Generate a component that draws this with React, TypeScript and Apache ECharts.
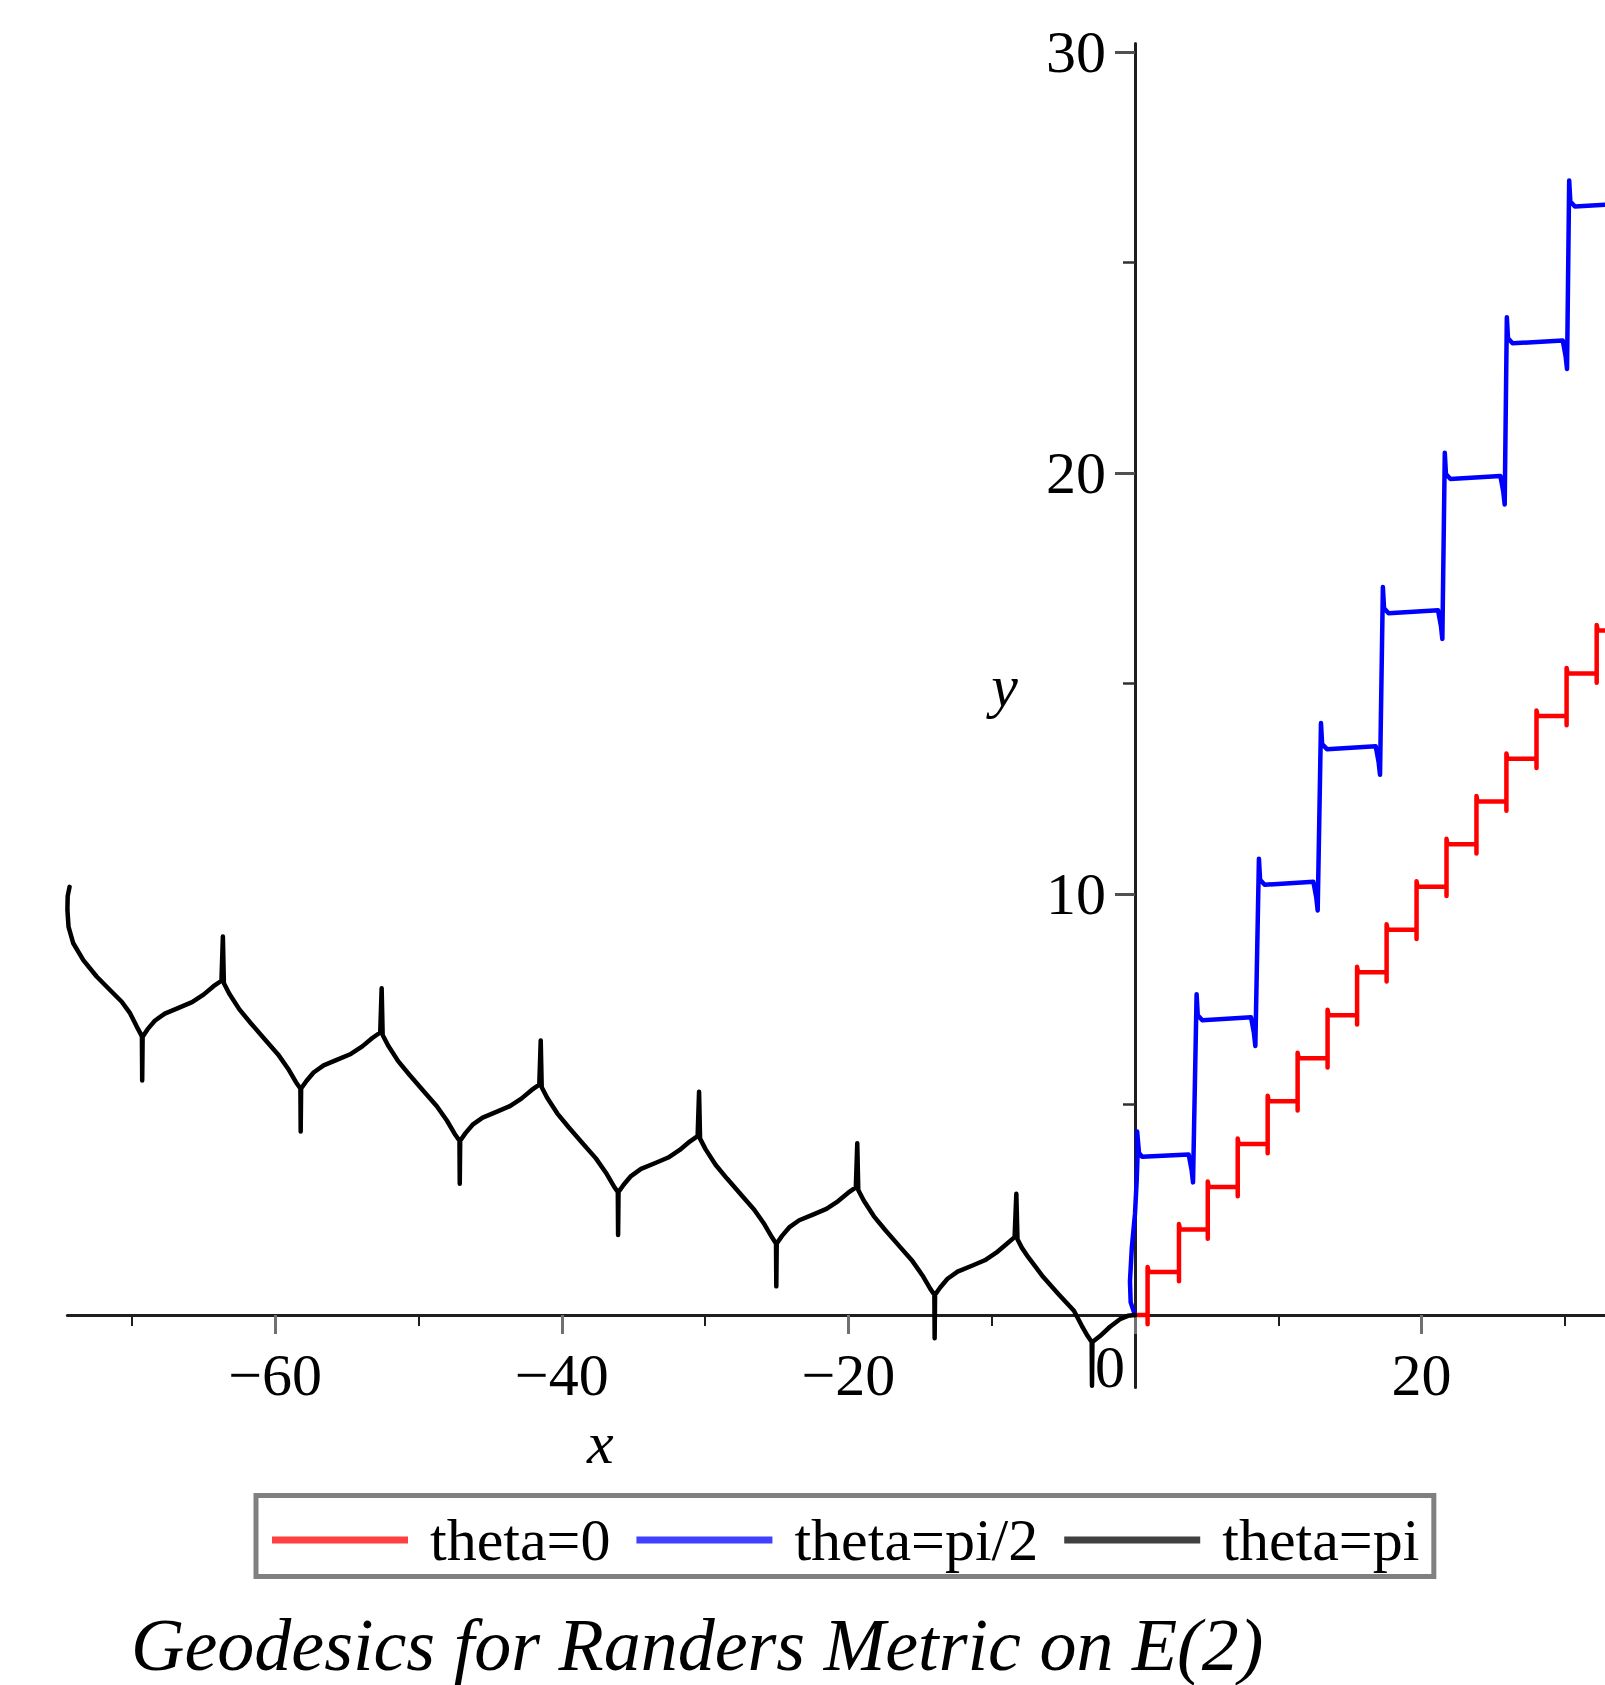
import React, { useEffect, useRef } from 'react';
import * as echarts from 'echarts';

const seriesNames = ['theta=0', 'theta=pi/2', 'theta=pi'];
const seriesColors = ['#ff0000', '#0000ff', '#000000'];
const legendColors = ['#ff4040', '#4040ff', '#404040'];

const thetaZero: number[][] = [
  [0, 0], [0.88, 0], [0.88, -0.22], [0.88, 1.14], [0.95, 1.02],
  [3.07, 1.02], [3.07, 0.8], [3.07, 2.16], [3.14, 2.03],
  [5.08, 2.03], [5.08, 1.81], [5.08, 3.17], [5.15, 3.04],
  [7.17, 3.04], [7.17, 2.82], [7.17, 4.19], [7.24, 4.06],
  [9.26, 4.06], [9.26, 3.84], [9.26, 5.21], [9.33, 5.08],
  [11.35, 5.08], [11.35, 4.86], [11.35, 6.23], [11.42, 6.1],
  [13.44, 6.1], [13.44, 5.88], [13.44, 7.25], [13.51, 7.12],
  [15.5, 7.12], [15.5, 6.9], [15.5, 8.27], [15.57, 8.14],
  [17.56, 8.14], [17.56, 7.92], [17.56, 9.28], [17.63, 9.15],
  [19.65, 9.15], [19.65, 8.93], [19.65, 10.3], [19.72, 10.17],
  [21.74, 10.17], [21.74, 9.95], [21.74, 11.31], [21.81, 11.18],
  [23.83, 11.18], [23.83, 10.96], [23.83, 12.33], [23.9, 12.2],
  [25.92, 12.2], [25.92, 11.98], [25.92, 13.34], [25.99, 13.21],
  [28.02, 13.21], [28.02, 12.99], [28.02, 14.36], [28.09, 14.23],
  [30.12, 14.23], [30.12, 14.01], [30.12, 15.37], [30.19, 15.24],
  [32.22, 15.24], [32.22, 15.02], [32.22, 16.39], [32.29, 16.26],
  [34.0, 16.26],
];

const thetaHalfPi: number[][] = [
  [0, 0], [-0.3, 0.3], [-0.35, 0.8], [-0.22, 1.6], [0, 2.4], [0.12, 3.2], [0.18, 3.8], [0.15, 4.36],
  [0.28, 3.85], [0.5, 3.76],
  [3.75, 3.81], [3.95, 3.45], [4.05, 3.15],
  [4.3, 7.62], [4.38, 7.12], [4.7, 7.0],
  [8.1, 7.07], [8.3, 6.7], [8.4, 6.39],
  [8.65, 10.84], [8.73, 10.34], [9.05, 10.22],
  [12.45, 10.29], [12.65, 9.92], [12.75, 9.61],
  [12.98, 14.06], [13.06, 13.56], [13.4, 13.44],
  [16.8, 13.51], [17.0, 13.14], [17.1, 12.83],
  [17.3, 17.29], [17.38, 16.79], [17.7, 16.67],
  [21.15, 16.74], [21.35, 16.37], [21.45, 16.06],
  [21.62, 20.48], [21.7, 19.98], [22.0, 19.86],
  [25.5, 19.93], [25.7, 19.56], [25.8, 19.25],
  [25.95, 23.7], [26.03, 23.2], [26.35, 23.08],
  [29.85, 23.15], [30.05, 22.78], [30.15, 22.47],
  [30.3, 26.95], [30.38, 26.45], [30.7, 26.33],
  [34.0, 26.4],
];

const thetaPi: number[][] = [
  [-74.35, 10.17], [-74.48, 9.95], [-74.5, 9.62], [-74.42, 9.22], [-74.09, 8.83], [-73.39, 8.43],
  [-72.46, 8.04], [-71.53, 7.72], [-70.71, 7.44], [-70.13, 7.17], [-69.66, 6.85], [-69.36, 6.66],
  [-69.3, 6.61], [-69.28, 5.57], [-69.25, 6.61],
  [-68.9, 6.79], [-68.4, 6.99], [-67.7, 7.16], [-66.7, 7.3], [-65.8, 7.43], [-65.0, 7.61], [-64.3, 7.81],
  [-63.75, 7.94], [-63.65, 8.99], [-63.58, 7.88],
  [-63.2, 7.63], [-62.5, 7.26], [-61.7, 6.93], [-60.7, 6.54], [-59.8, 6.19], [-59.1, 5.85], [-58.55, 5.53],
  [-58.24, 5.38], [-58.22, 4.36], [-58.19, 5.38],
  [-57.82, 5.56], [-57.32, 5.76], [-56.62, 5.93], [-55.62, 6.07], [-54.72, 6.2], [-53.92, 6.38], [-53.22, 6.58],
  [-52.67, 6.71], [-52.57, 7.76], [-52.5, 6.65],
  [-52.12, 6.4], [-51.42, 6.03], [-50.62, 5.7], [-49.62, 5.31], [-48.72, 4.96], [-48.02, 4.62], [-47.47, 4.3],
  [-47.14, 4.14], [-47.12, 3.12], [-47.09, 4.14],
  [-46.72, 4.32], [-46.22, 4.52], [-45.52, 4.69], [-44.52, 4.83], [-43.62, 4.96], [-42.82, 5.14], [-42.12, 5.34],
  [-41.57, 5.47], [-41.47, 6.52], [-41.4, 5.41],
  [-41.02, 5.16], [-40.32, 4.79], [-39.52, 4.46], [-38.52, 4.07], [-37.62, 3.72], [-36.92, 3.38], [-36.37, 3.06],
  [-36.09, 2.92], [-36.07, 1.9], [-36.04, 2.92],
  [-35.67, 3.1], [-35.17, 3.3], [-34.47, 3.47], [-33.47, 3.61], [-32.57, 3.74], [-31.77, 3.92], [-31.07, 4.12],
  [-30.52, 4.25], [-30.42, 5.3], [-30.35, 4.19],
  [-29.97, 3.94], [-29.27, 3.57], [-28.47, 3.24], [-27.47, 2.85], [-26.57, 2.5], [-25.87, 2.16], [-25.32, 1.84],
  [-25.05, 1.7], [-25.03, 0.68], [-25.0, 1.7],
  [-24.63, 1.88], [-24.13, 2.08], [-23.43, 2.25], [-22.43, 2.39], [-21.53, 2.52], [-20.73, 2.7], [-20.03, 2.9],
  [-19.48, 3.03], [-19.38, 4.08], [-19.31, 2.97],
  [-18.93, 2.72], [-18.23, 2.35], [-17.43, 2.02], [-16.43, 1.63], [-15.53, 1.28], [-14.83, 0.94], [-14.28, 0.62],
  [-14.0, 0.48], [-13.98, -0.55], [-13.95, 0.48],
  [-13.58, 0.66], [-13.08, 0.86], [-12.38, 1.03], [-11.38, 1.17], [-10.48, 1.3], [-9.68, 1.48], [-8.98, 1.68],
  [-8.4, 1.85], [-8.28, 2.88], [-8.2, 1.8],
  [-7.9, 1.6], [-7.46, 1.38], [-6.4, 0.9], [-5.3, 0.48], [-4.26, 0.1], [-3.72, -0.25], [-3.3, -0.5],
  [-3.02, -0.64], [-3.0, -1.68], [-2.97, -0.64],
  [-2.44, -0.5], [-1.74, -0.28], [-1.05, -0.1], [-0.5, -0.02], [0, 0],
];

const xMajorTicks = [-60, -40, -20, 0, 20];
const xMinorTicks = [-70, -50, -30, -10, 10, 30];
const yMajorTicks = [10, 20, 30];
const yMinorTicks = [5, 15, 25];
const xRange = [-74.5, 32.8];
const yRange = [-1.72, 30.2];
const axisNames = ['x', 'y'];
const caption = 'Geodesics for Randers Metric on E(2)';

const serif = '"Liberation Serif", "Times New Roman", serif';

function formatX(v: number): string {
  if (v === 0) return '{z|0}';
  return v < 0 ? '\u2212' + Math.abs(v) : String(v);
}

export default function App() {
  const ref = useRef<HTMLDivElement>(null);

  useEffect(() => {
    document.body.style.margin = '0';
    if (!ref.current) return;
    const chart = echarts.init(ref.current, undefined, { renderer: 'svg' });

    // grid geometry (layout only)
    const gridLeft = 67.4;
    const gridTop = 43.6;
    const gridWidth = 1605 - gridLeft;
    const gridHeight = 1343.8;
    // move axes from the grid edges onto the zero lines
    const yAxisOffset = -((0 - xRange[0]) / (xRange[1] - xRange[0])) * gridWidth;
    const xAxisOffset = -((0 - yRange[0]) / (yRange[1] - yRange[0])) * gridHeight;

    const axisLineStyle = { color: '#1e1e1e', width: 3 };
    const labelStyle = { fontFamily: serif, fontSize: 60, lineHeight: 60, color: '#000' };
    const nameStyle = { fontFamily: serif, fontSize: 60, lineHeight: 60, fontStyle: 'italic', color: '#000' };

    const dataSets = [thetaZero, thetaHalfPi, thetaPi];

    const option: any = {
      animation: false,
      backgroundColor: '#ffffff',
      title: {
        text: caption,
        left: 131,
        top: 1608,
        padding: 0,
        textStyle: {
          fontFamily: serif,
          fontStyle: 'italic',
          fontWeight: 'normal',
          fontSize: 74,
          lineHeight: 74,
          color: '#000',
        },
      },
      legend: {
        data: seriesNames.map((n, i) => ({ name: n, itemStyle: { color: legendColors[i], borderWidth: 0 } })),
        left: 256,
        top: 1495.5,
        orient: 'horizontal',
        icon: 'rect',
        itemWidth: 136,
        itemHeight: 7,
        itemGap: 26,
        padding: [14.5, 14.5, 6.5, 16],
        borderColor: '#808080',
        borderWidth: 5,
        backgroundColor: '#ffffff',
        selectedMode: false,
        itemStyle: { borderWidth: 0 },
        textStyle: { fontFamily: serif, fontSize: 60, lineHeight: 60, color: '#000', padding: [0, 0, 0, 17] },
      },
      grid: {
        left: gridLeft,
        top: gridTop,
        width: gridWidth,
        height: gridHeight,
        containLabel: false,
        outerBoundsMode: 'none',
      },
      xAxis: [
        {
          type: 'value',
          min: xRange[0],
          max: xRange[1],
          position: 'bottom',
          offset: xAxisOffset,
          name: axisNames[0],
          nameLocation: 'middle',
          nameGap: 98,
          nameMoveOverlap: false,
          nameTextStyle: { ...nameStyle, padding: [0, 472, 0, 0] },
          axisLine: { show: true, onZero: false, lineStyle: axisLineStyle },
          axisTick: { show: true, customValues: xMajorTicks, length: 19, lineStyle: { color: '#707070', width: 3 } },
          axisLabel: {
            show: true,
            customValues: xMajorTicks,
            margin: 30,
            ...labelStyle,
            formatter: formatX,
            rich: {
              z: { fontFamily: serif, fontSize: 60, lineHeight: 44, color: '#000', padding: [0, 50, 0, 0] },
            },
          },
          splitLine: { show: false },
        },
        {
          type: 'value',
          min: xRange[0],
          max: xRange[1],
          position: 'bottom',
          offset: xAxisOffset,
          axisLine: { show: false, onZero: false },
          axisTick: { show: true, customValues: xMinorTicks, length: 11, lineStyle: { color: '#1e1e1e', width: 2 } },
          axisLabel: { show: false },
          splitLine: { show: false },
        },
      ],
      yAxis: [
        {
          type: 'value',
          min: yRange[0],
          max: yRange[1],
          position: 'left',
          offset: yAxisOffset,
          name: axisNames[1],
          nameLocation: 'middle',
          nameRotate: 0,
          nameGap: 117,
          nameMoveOverlap: false,
          nameTextStyle: { ...nameStyle, verticalAlign: 'bottom', padding: 0 },
          axisLine: { show: true, onZero: false, lineStyle: axisLineStyle },
          axisTick: { show: true, customValues: yMajorTicks, length: 20, lineStyle: { color: '#505050', width: 3 } },
          axisLabel: { show: true, customValues: yMajorTicks, margin: 29, ...labelStyle },
          splitLine: { show: false },
        },
        {
          type: 'value',
          min: yRange[0],
          max: yRange[1],
          position: 'left',
          offset: yAxisOffset,
          axisLine: { show: false, onZero: false },
          axisTick: { show: true, customValues: yMinorTicks, length: 12, lineStyle: { color: '#303030', width: 2.5 } },
          axisLabel: { show: false },
          splitLine: { show: false },
        },
      ],
      series: seriesNames.map((n, i) => ({
        name: n,
        type: 'line',
        xAxisIndex: 0,
        yAxisIndex: 0,
        data: dataSets[i],
        showSymbol: false,
        symbol: 'none',
        smooth: false,
        clip: true,
        lineStyle: { color: seriesColors[i], width: 4.5, join: 'round', cap: 'round' },
        itemStyle: { color: seriesColors[i] },
        emphasis: { disabled: true },
        z: 3,
      })),
    };

    chart.setOption(option);
    return () => {
      chart.dispose();
    };
  }, []);

  return (
    <div
      ref={ref}
      style={{ position: 'absolute', left: 0, top: 0, width: 1605, height: 1685, background: '#fff' }}
    />
  );
}
